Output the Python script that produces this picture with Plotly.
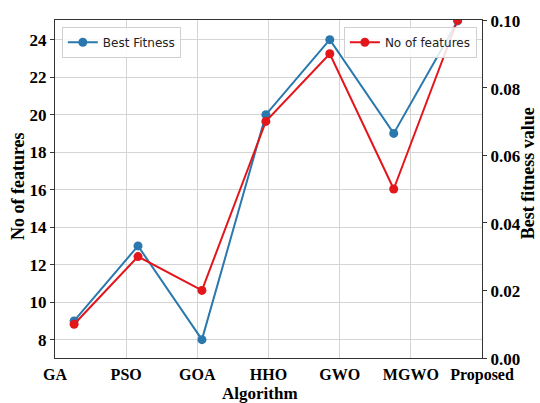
import plotly.graph_objects as go

algorithms = ["GA", "PSO", "GOA", "HHO", "GWO", "MGWO", "Proposed"]
best_fitness = [9, 13, 8, 20, 24, 19, 25]                 # left axis
no_of_features = [0.010, 0.030, 0.020, 0.070, 0.090, 0.050, 0.100]  # right axis
left_ticks = [8, 10, 12, 14, 16, 18, 20, 22, 24]
right_ticks = [0.00, 0.02, 0.04, 0.06, 0.08, 0.10]

BLUE = "#2a78ad"
RED = "#e3161c"
SERIF = "Liberation Serif"

fig = go.Figure()
# invisible carrier trace so that the labelled category axis is rendered
fig.add_trace(go.Scatter(x=algorithms, y=[None] * len(algorithms), xaxis="x", yaxis="y",
                         mode="lines", showlegend=False, hoverinfo="skip"))
fig.add_trace(go.Scatter(
    x=algorithms, y=best_fitness, xaxis="x2", yaxis="y",
    mode="lines+markers", name="Best Fitness",
    line=dict(color=BLUE, width=2), marker=dict(color=BLUE, size=9),
    legend="legend"))
fig.add_trace(go.Scatter(
    x=algorithms, y=no_of_features, xaxis="x2", yaxis="y2",
    mode="lines+markers", name="No of features",
    line=dict(color=RED, width=2), marker=dict(color=RED, size=9),
    legend="legend2"))

tickfont = dict(family=SERIF, size=17, color="black", weight="bold")
xtickfont = dict(family=SERIF, size=16, color="black", weight="bold")
axcol = "#333333"

fig.update_layout(
    width=540, height=403,
    margin=dict(l=55, r=58, t=14, b=45),
    paper_bgcolor="white", plot_bgcolor="white",
    xaxis=dict(type="category", categoryarray=algorithms, range=[0, len(algorithms) - 1],
               tickfont=xtickfont, showgrid=True, gridcolor="#d4d4d4", gridwidth=1,
               showline=True, linecolor=axcol, linewidth=1.3, mirror=True,
               ticks="", ticklabelstandoff=2, zeroline=False),
    xaxis2=dict(type="category", categoryarray=algorithms, overlaying="x",
                range=[-0.2986, 6.381], visible=False),
    yaxis=dict(range=[7.02, 25.05], tickvals=left_ticks, tickfont=tickfont,
               showgrid=True, gridcolor="#d4d4d4", gridwidth=1,
               showline=True, linecolor=axcol, linewidth=1.3,
               ticks="outside", ticklen=4, tickcolor=axcol, zeroline=False),
    yaxis2=dict(range=[0, 0.1], tickvals=right_ticks, tickformat=".2f",
                tickfont=tickfont, overlaying="y", side="right", anchor="x",
                showgrid=False, showline=True, linecolor=axcol, linewidth=1.3,
                ticks="outside", ticklen=4, tickcolor=axcol, zeroline=False,
                ticklabelshift=1),
    legend=dict(x=0.016, y=0.98, xanchor="left", yanchor="top",
                bgcolor="rgba(255,255,255,0.85)", bordercolor="#d0d0d0", borderwidth=1,
                font=dict(family="DejaVu Sans", size=12, color="#222")),
    legend2=dict(x=0.988, y=0.98, xanchor="right", yanchor="top",
                 bgcolor="rgba(255,255,255,0.85)", bordercolor="#d0d0d0", borderwidth=1,
                 font=dict(family="DejaVu Sans", size=12, color="#222")),
    showlegend=True,
    annotations=[
        dict(text="<b>No of features</b>", xref="paper", yref="paper",
             x=-0.088, y=0.51, xanchor="center", yanchor="middle", textangle=-90,
             showarrow=False, font=dict(family=SERIF, size=18, color="black")),
        dict(text="<b>Best fitness value</b>", xref="paper", yref="paper",
             x=1.108, y=0.547, xanchor="center", yanchor="middle", textangle=-90,
             showarrow=False, font=dict(family=SERIF, size=18, color="black")),
        dict(text="<b>Algorithm</b>", xref="paper", yref="paper",
             x=0.48, y=-0.104, xanchor="center", yanchor="middle",
             showarrow=False, font=dict(family=SERIF, size=17, color="black")),
    ],
)

fig.write_html("out.html")
